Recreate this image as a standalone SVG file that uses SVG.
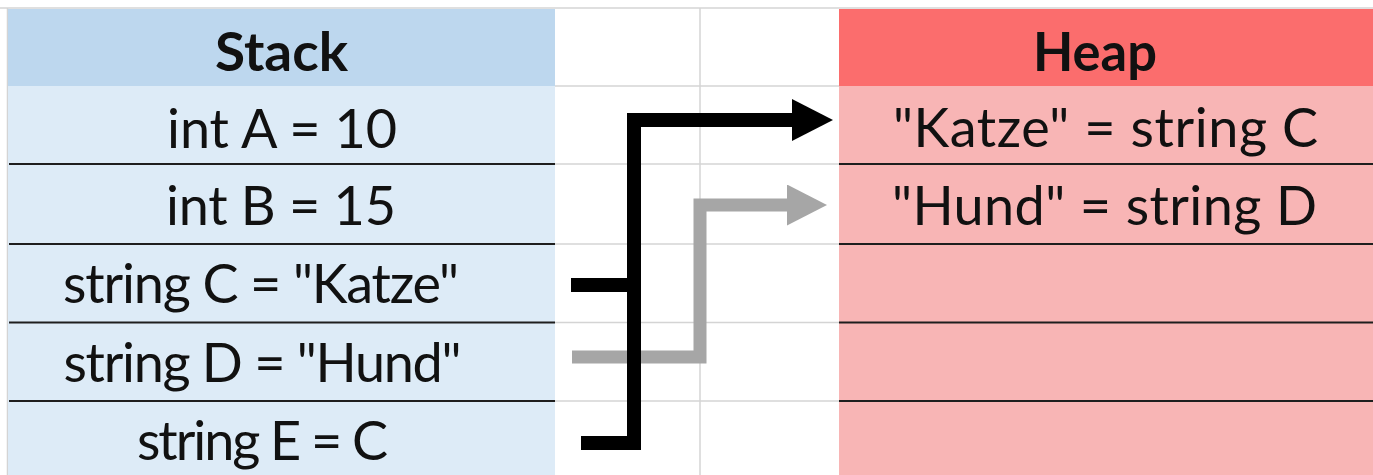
<svg xmlns="http://www.w3.org/2000/svg" width="1373" height="475" viewBox="0 0 1373 475">
  <style>
    .grid { stroke: #d4d4d4; stroke-width: 1.5; fill: none; }
    .sep { stroke: #1e1e1e; stroke-width: 2; }
    .stack-head { fill: #bdd7ee; }
    .stack-cell { fill: #ddebf7; }
    .heap-head { fill: #fb6d6d; }
    .heap-cell { fill: #f8b5b5; }
    .label { font-family: Lato, "Noto Sans", sans-serif; font-size: 54px; fill: #111; text-anchor: middle; }
    .title { font-weight: bold; }
    .ref-main { stroke: #000; stroke-width: 14; fill: none; stroke-linejoin: miter; stroke-linecap: butt; }
    .ref-alt { stroke: #a6a6a6; stroke-width: 13; fill: none; stroke-linejoin: miter; stroke-linecap: butt; }
  </style>
  <defs>
    <marker id="head-black" markerUnits="userSpaceOnUse" markerWidth="42" markerHeight="42" refX="0" refY="21" orient="auto">
      <polygon points="0,0 41,21 0,42" fill="#000"/>
    </marker>
    <marker id="head-gray" markerUnits="userSpaceOnUse" markerWidth="42" markerHeight="42" refX="0" refY="20.5" orient="auto">
      <polygon points="0,0 40,20.5 0,41" fill="#a6a6a6"/>
    </marker>
  </defs>

  <!-- background sheet grid -->
  <g id="sheet">
    <rect x="0" y="0" width="1373" height="475" fill="#fff"/>
    <line class="grid" x1="0" y1="8" x2="1373" y2="8"/>
    <line class="grid" x1="7.5" y1="8" x2="7.5" y2="475"/>
    <line class="grid" x1="555" y1="86" x2="839" y2="86"/>
    <line class="grid" x1="555" y1="164" x2="839" y2="164"/>
    <line class="grid" x1="555" y1="244" x2="839" y2="244"/>
    <line class="grid" x1="555" y1="322.5" x2="839" y2="322.5"/>
    <line class="grid" x1="555" y1="401" x2="839" y2="401"/>
    <line class="grid" x1="700" y1="8" x2="700" y2="475"/>
  </g>

  <!-- Stack column -->
  <g id="stack-header">
    <rect class="stack-head" x="8" y="9" width="547" height="77"/>
    <text class="label title" x="281.5" y="71" textLength="133" lengthAdjust="spacingAndGlyphs">Stack</text>
  </g>
  <g id="stack-a">
    <rect class="stack-cell" x="8" y="86" width="547" height="78"/>
    <text class="label" x="282" y="148" textLength="230">int A = 10</text>
  </g>
  <g id="stack-b">
    <rect class="stack-cell" x="8" y="164" width="547" height="80"/>
    <text class="label" x="281" y="225" textLength="230">int B = 15</text>
  </g>
  <g id="stack-c">
    <rect class="stack-cell" x="8" y="244" width="547" height="78.5"/>
    <text class="label" x="261" y="303" textLength="396">string C = "Katze"</text>
  </g>
  <g id="stack-d">
    <rect class="stack-cell" x="8" y="322.5" width="547" height="78.5"/>
    <text class="label" x="262.5" y="382" textLength="398">string D = "Hund"</text>
  </g>
  <g id="stack-e">
    <rect class="stack-cell" x="8" y="401" width="547" height="74"/>
    <text class="label" x="262.5" y="460" textLength="251">string E = C</text>
  </g>
  <g id="stack-lines">
    <line class="sep" x1="9" y1="164" x2="555" y2="164"/>
    <line class="sep" x1="9" y1="244" x2="555" y2="244"/>
    <line class="sep" x1="9" y1="322.5" x2="555" y2="322.5"/>
    <line class="sep" x1="9" y1="401" x2="555" y2="401"/>
  </g>

  <!-- Heap column -->
  <g id="heap-header">
    <rect class="heap-head" x="839" y="9" width="534" height="77"/>
    <text class="label title" x="1095" y="71" textLength="124" lengthAdjust="spacingAndGlyphs">Heap</text>
  </g>
  <g id="heap-katze">
    <rect class="heap-cell" x="839" y="86" width="534" height="78"/>
    <text class="label" x="1105.5" y="147" textLength="425">"Katze" = string C</text>
  </g>
  <g id="heap-hund">
    <rect class="heap-cell" x="839" y="164" width="534" height="80"/>
    <text class="label" x="1104.5" y="225" textLength="425">"Hund" = string D</text>
  </g>
  <g id="heap-free-1">
    <rect class="heap-cell" x="839" y="244" width="534" height="78.5"/>
  </g>
  <g id="heap-free-2">
    <rect class="heap-cell" x="839" y="322.5" width="534" height="78.5"/>
  </g>
  <g id="heap-free-3">
    <rect class="heap-cell" x="839" y="401" width="534" height="74"/>
  </g>
  <g id="heap-lines">
    <line class="sep" x1="839" y1="164" x2="1373" y2="164"/>
    <line class="sep" x1="839" y1="244" x2="1373" y2="244"/>
    <line class="sep" x1="839" y1="322.5" x2="1373" y2="322.5"/>
    <line class="sep" x1="839" y1="401" x2="1373" y2="401"/>
  </g>

  <!-- references from stack variables to heap objects -->
  <g id="connectors">
    <path class="ref-alt" d="M572,357 H700 V205 H787" marker-end="url(#head-gray)"/>
    <path class="ref-main" d="M571,285 H641"/>
    <path class="ref-main" d="M581,443 H634 V120 H792" marker-end="url(#head-black)"/>
  </g>
</svg>
